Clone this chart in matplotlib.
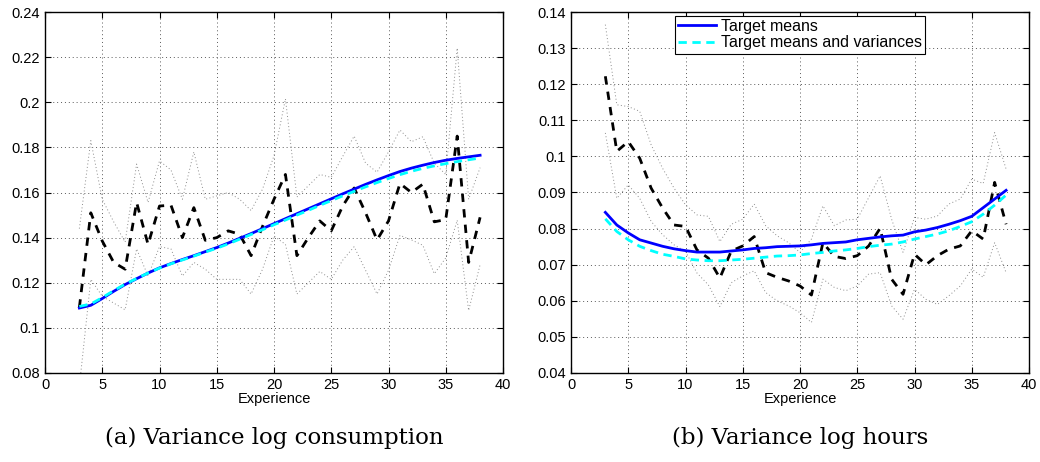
import numpy as np
import matplotlib
matplotlib.use("Agg")
import matplotlib.pyplot as plt

plt.rcParams['font.family'] = ['Liberation Sans', 'DejaVu Sans']

experience = list(range(3, 39))

# (a) variance log consumption
cons_data = [0.109, 0.151, 0.1385, 0.129, 0.126, 0.1556, 0.137, 0.154, 0.1544, 0.140,
             0.1533, 0.1388, 0.140, 0.143, 0.1415, 0.132, 0.145, 0.157, 0.168, 0.132,
             0.140, 0.1474, 0.143, 0.154, 0.162, 0.151, 0.139, 0.1474, 0.164, 0.160,
             0.1637, 0.147, 0.148, 0.185, 0.129, 0.149]
cons_upper = [0.144, 0.183, 0.157, 0.147, 0.138, 0.1726, 0.1556, 0.174, 0.170, 0.157,
              0.178, 0.157, 0.1585, 0.160, 0.157, 0.152, 0.1615, 0.1763, 0.2015, 0.158,
              0.163, 0.168, 0.1667, 0.176, 0.185, 0.173, 0.169, 0.178, 0.1877, 0.1825,
              0.1847, 0.173, 0.168, 0.224, 0.157, 0.171]
cons_lower = [0.074, 0.1215, 0.114, 0.111, 0.108, 0.135, 0.123, 0.136, 0.135, 0.123,
              0.129, 0.126, 0.1215, 0.1215, 0.1215, 0.115, 0.126, 0.1407, 0.137, 0.115,
              0.120, 0.125, 0.1215, 0.130, 0.136, 0.1255, 0.115, 0.1255, 0.141, 0.139,
              0.1366, 0.124, 0.131, 0.1477, 0.1077, 0.128]
cons_means = [0.1088, 0.1100, 0.1130, 0.1162, 0.1192, 0.1218, 0.1243, 0.1266, 0.1285, 0.1303,
              0.1320, 0.1338, 0.1356, 0.1376, 0.1397, 0.1418, 0.1440, 0.1462, 0.1484, 0.1506,
              0.1528, 0.1550, 0.1572, 0.1594, 0.1615, 0.1636, 0.1656, 0.1675, 0.1693, 0.1708,
              0.1721, 0.1733, 0.1743, 0.1751, 0.1758, 0.1765]
cons_meanvar = [0.1095, 0.1106, 0.1134, 0.1165, 0.1194, 0.1219, 0.1243, 0.1265, 0.1284, 0.1301,
                0.1318, 0.1336, 0.1353, 0.1372, 0.1393, 0.1414, 0.1435, 0.1457, 0.1478, 0.1500,
                0.1521, 0.1543, 0.1564, 0.1585, 0.1605, 0.1625, 0.1644, 0.1662, 0.1679, 0.1694,
                0.1707, 0.1718, 0.1728, 0.1737, 0.1745, 0.1753]

# (b) variance log hours
hours_data = [0.1222, 0.1014, 0.1041, 0.0995, 0.0912, 0.0857, 0.081, 0.0806, 0.0741, 0.0718,
              0.0663, 0.0738, 0.0752, 0.0778, 0.0678, 0.0665, 0.0655, 0.0641, 0.0616, 0.0761,
              0.0723, 0.0717, 0.0725, 0.0752, 0.0801, 0.066, 0.0618, 0.0729, 0.070, 0.0725,
              0.0743, 0.0752, 0.0794, 0.0771, 0.0928, 0.0812]
hours_upper = [0.1365, 0.1143, 0.1138, 0.1125, 0.1032, 0.0967, 0.0912, 0.0866, 0.0838, 0.0834,
               0.0764, 0.0812, 0.0826, 0.0868, 0.0808, 0.078, 0.0761, 0.0734, 0.0771, 0.0863,
               0.0808, 0.0824, 0.0826, 0.0886, 0.0946, 0.0826, 0.0734, 0.0831, 0.0826, 0.0835,
               0.0868, 0.0882, 0.0937, 0.0925, 0.1066, 0.0965]
hours_lower = [0.1065, 0.0884, 0.0921, 0.0884, 0.082, 0.0783, 0.0755, 0.0737, 0.0677, 0.0644,
               0.0584, 0.065, 0.0669, 0.0683, 0.0623, 0.060, 0.0586, 0.0567, 0.054, 0.066,
               0.0637, 0.0628, 0.0641, 0.0674, 0.0678, 0.0586, 0.0549, 0.0632, 0.0604, 0.059,
               0.0614, 0.0641, 0.0688, 0.0665, 0.0761, 0.0678]
hours_means = [0.0845, 0.081, 0.0788, 0.0769, 0.076, 0.0751, 0.0744, 0.0739, 0.0735, 0.0735,
               0.0735, 0.0738, 0.0741, 0.0745, 0.0747, 0.075, 0.0751, 0.0752, 0.0755, 0.0759,
               0.0761, 0.0763, 0.0769, 0.0773, 0.0777, 0.078, 0.0782, 0.0791, 0.0796, 0.0803,
               0.0812, 0.0822, 0.0834, 0.0858, 0.0882, 0.0906]
hours_meanvar = [0.0827, 0.0792, 0.0769, 0.0751, 0.0739, 0.0729, 0.0723, 0.0716, 0.0713, 0.0711,
                 0.0711, 0.0713, 0.0715, 0.0718, 0.0721, 0.0724, 0.0725, 0.0727, 0.0731, 0.0734,
                 0.0738, 0.0741, 0.0745, 0.075, 0.0754, 0.0757, 0.0763, 0.0771, 0.0778, 0.0785,
                 0.0794, 0.0806, 0.0819, 0.084, 0.0865, 0.0893]

panels = [
    (cons_data, cons_upper, cons_lower, cons_means, cons_meanvar,
     (0.08, 0.24), np.arange(0.08, 0.2401, 0.02), "(a) Variance log consumption"),
    (hours_data, hours_upper, hours_lower, hours_means, hours_meanvar,
     (0.04, 0.14), np.arange(0.04, 0.1401, 0.01), "(b) Variance log hours"),
]

fig = plt.figure(figsize=(10.4, 4.62), dpi=100)
lefts = [45 / 1040, 571 / 1040]

for i, (data, up, lo, m1, m2, ylim, yticks, caption) in enumerate(panels):
    ax = fig.add_axes([lefts[i], 89 / 462, 458 / 1040, 361 / 462])
    # confidence bands
    ax.plot(experience, up, color='0.55', lw=0.7, linestyle=(0, (1, 2.5)))
    ax.plot(experience, lo, color='0.55', lw=0.7, linestyle=(0, (1, 2.5)))
    ax.plot(experience, data, '--', color='black', lw=2, dashes=(3, 2.6))
    l1, = ax.plot(experience, m1, '-', color='#0000ff', lw=2, label="Target means")
    l2, = ax.plot(experience, m2, '--', color='#00ffff', lw=2, dashes=(3, 2),
                  label="Target means and variances")
    ax.set_xlim(0, 40)
    ax.set_ylim(*ylim)
    ax.set_xticks(range(0, 41, 5))
    ax.set_yticks(yticks)
    ax.set_yticklabels(["%g" % round(v, 2) for v in yticks])
    ax.grid(True, linestyle=(0, (1, 3)), color='0.35', lw=0.7)
    ax.tick_params(direction='in', top=True, right=True, labelsize=10.5, length=4)
    ax.set_xlabel("Experience", fontsize=10.5, labelpad=0)
    for s in ax.spines.values():
        s.set_linewidth(1.0)
    fig.text(lefts[i] + 229 / 1040, 24 / 462, caption, ha='center', va='center',
             fontsize=16.5, family='DejaVu Serif')
    if i == 1:
        leg = ax.legend(handles=[l1, l2], loc='upper center', bbox_to_anchor=(0.5, 0.99),
                        fancybox=False, edgecolor='black', framealpha=1,
                        fontsize=11.5, borderpad=0.2, labelspacing=0.1,
                        handlelength=2.4, handletextpad=0.3, borderaxespad=0)
        leg.get_frame().set_linewidth(0.8)

fig.savefig("out.png", dpi=100)
